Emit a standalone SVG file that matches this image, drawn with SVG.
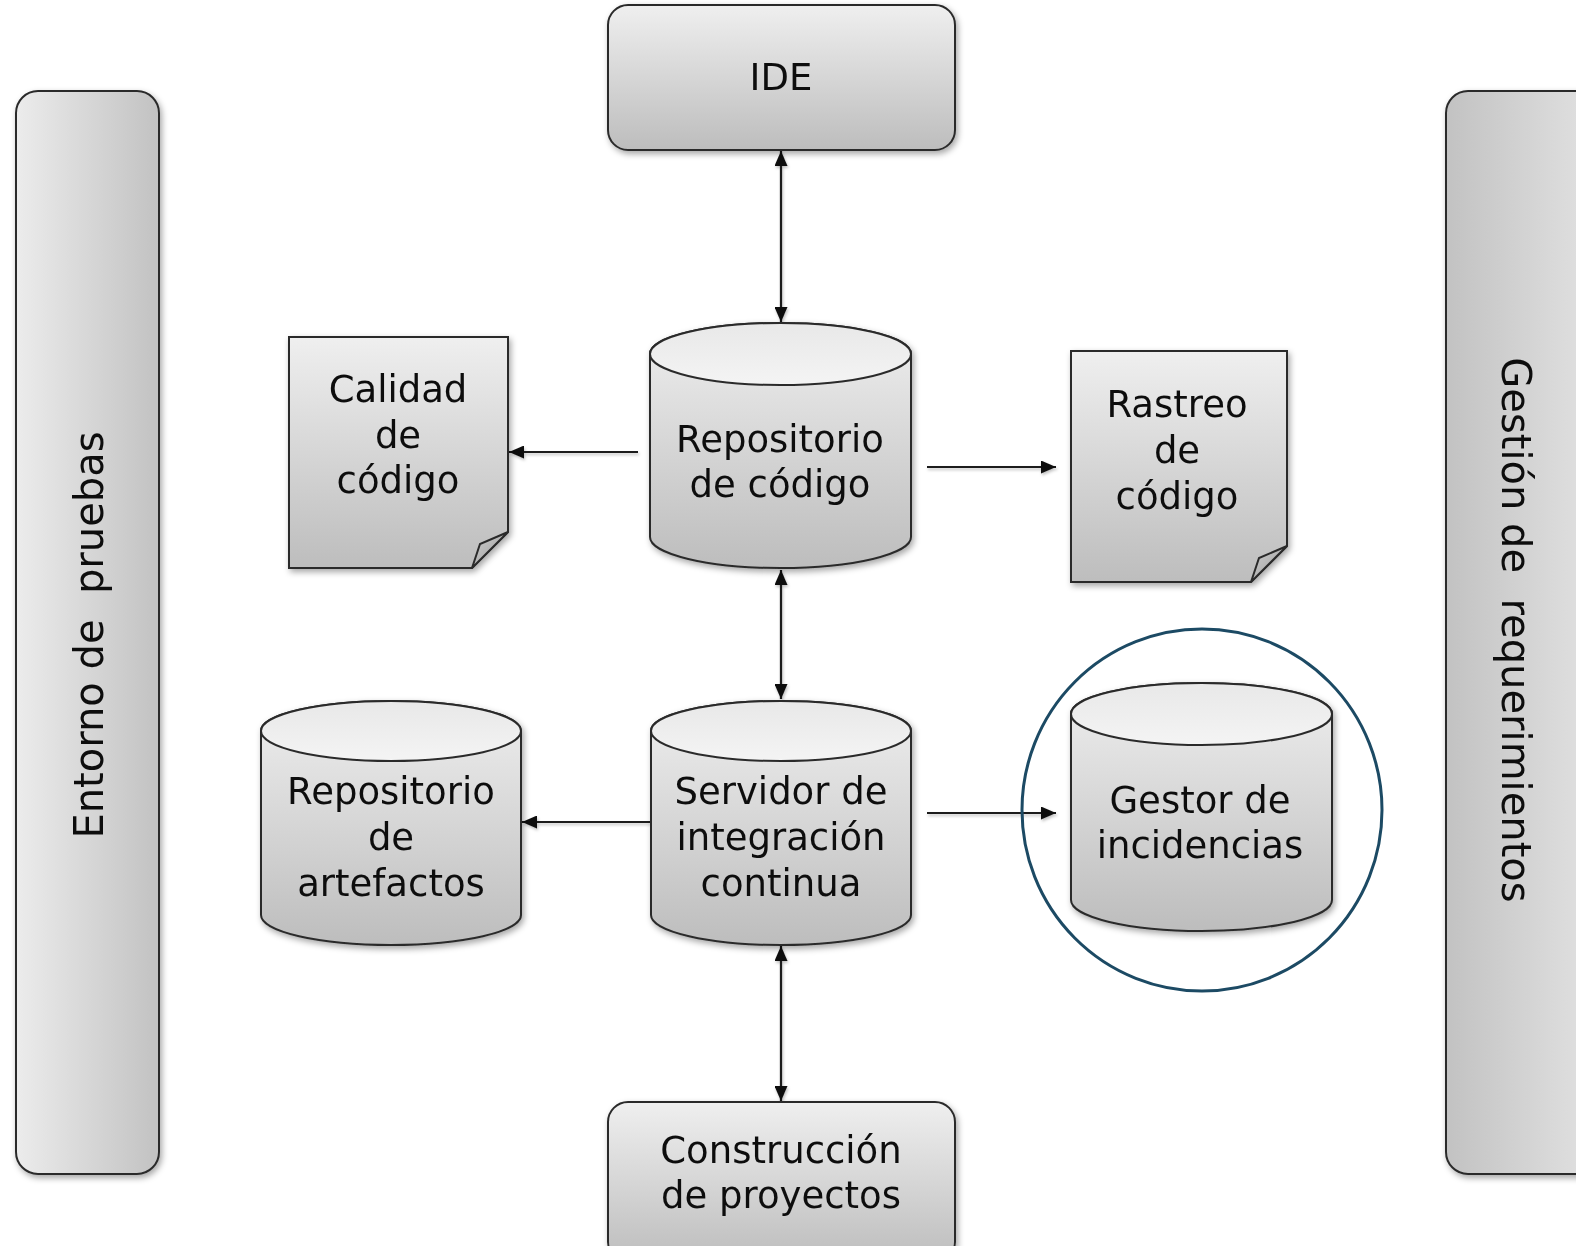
<svg xmlns="http://www.w3.org/2000/svg" width="1576" height="1246" viewBox="0 0 1576 1246">
  <style>
    .shape { stroke: #2b2b2b; stroke-width: 2; }
    .node { fill: url(#gNode); }
    .lbl { font-family: "DejaVu Sans", Verdana, sans-serif; font-size: 37px; fill: #111; text-anchor: middle; }
    .side { font-family: "DejaVu Sans", Verdana, sans-serif; font-size: 40px; fill: #111; text-anchor: middle; white-space: pre; }
    .conn { stroke: #1a1a1a; stroke-width: 2.2; fill: none; }
  </style>
  <defs>
    <linearGradient id="gNode" x1="0" y1="0" x2="0" y2="1">
      <stop offset="0" stop-color="#efefef"/>
      <stop offset="1" stop-color="#bdbdbd"/>
    </linearGradient>
    <linearGradient id="gTop" x1="0" y1="0" x2="0" y2="1">
      <stop offset="0" stop-color="#e8e8e8"/>
      <stop offset="1" stop-color="#f4f4f4"/>
    </linearGradient>
    <linearGradient id="gLeft" x1="0" y1="0" x2="1" y2="0">
      <stop offset="0" stop-color="#ececec"/>
      <stop offset="1" stop-color="#c2c2c2"/>
    </linearGradient>
    <linearGradient id="gRight" x1="0" y1="0" x2="1" y2="0">
      <stop offset="0" stop-color="#c2c2c2"/>
      <stop offset="1" stop-color="#e4e4e4"/>
    </linearGradient>
    <linearGradient id="gFold" x1="0" y1="0" x2="1" y2="1">
      <stop offset="0" stop-color="#cfcfcf"/>
      <stop offset="1" stop-color="#9a9a9a"/>
    </linearGradient>
    <filter id="shadow" x="-10%" y="-10%" width="130%" height="130%">
      <feDropShadow dx="2" dy="3" stdDeviation="3" flood-color="#000" flood-opacity="0.35"/>
    </filter>
    <filter id="lineShadow" x="-5%" y="-50%" width="110%" height="200%">
      <feDropShadow dx="1" dy="2" stdDeviation="1.5" flood-color="#000" flood-opacity="0.25"/>
    </filter>
    <marker id="arrow" viewBox="0 0 15 13" refX="15" refY="6.5" markerWidth="15" markerHeight="13" markerUnits="userSpaceOnUse" orient="auto-start-reverse">
      <path d="M0,0 L15,6.5 L0,13 Z" fill="#111"/>
    </marker>
  </defs>

  <rect width="1576" height="1246" fill="#ffffff"/>

  <!-- side panels -->
  <g id="entorno-pruebas" filter="url(#shadow)">
    <rect class="shape" x="16" y="91" width="143" height="1083" rx="22" fill="url(#gLeft)"/>
    <text class="side" transform="translate(103,635) rotate(-90)">Entorno de  pruebas</text>
  </g>
  <g id="gestion-requerimientos" filter="url(#shadow)">
    <rect class="shape" x="1446" y="91" width="160" height="1083" rx="22" fill="url(#gRight)"/>
    <text class="side" transform="translate(1502,630) rotate(90)">Gestión de  requerimientos</text>
  </g>

  <!-- connectors -->
  <g id="connectors" filter="url(#lineShadow)">
    <line class="conn" x1="781" y1="151" x2="781" y2="322" marker-start="url(#arrow)" marker-end="url(#arrow)"/>
    <line class="conn" x1="638" y1="452" x2="509" y2="452" marker-end="url(#arrow)"/>
    <line class="conn" x1="927" y1="467" x2="1056" y2="467" marker-end="url(#arrow)"/>
    <line class="conn" x1="781" y1="570" x2="781" y2="699" marker-start="url(#arrow)" marker-end="url(#arrow)"/>
    <line class="conn" x1="651" y1="822" x2="522" y2="822" marker-end="url(#arrow)"/>
    <line class="conn" x1="927" y1="813" x2="1056" y2="813" marker-end="url(#arrow)"/>
    <line class="conn" x1="781" y1="946" x2="781" y2="1101" marker-start="url(#arrow)" marker-end="url(#arrow)"/>
  </g>

  <!-- IDE -->
  <g id="ide" filter="url(#shadow)">
    <rect class="shape node" x="608" y="5" width="347" height="145" rx="20"/>
    <text class="lbl" x="781" y="90">IDE</text>
  </g>

  <!-- Repositorio de código -->
  <g id="repositorio-codigo" filter="url(#shadow)">
    <path class="shape node" d="M650,354 L650,537 A130.5,31 0 0 0 911,537 L911,354 A130.5,31 0 0 0 650,354 Z"/>
    <ellipse class="shape" cx="780.5" cy="354" rx="130.5" ry="31" fill="url(#gTop)"/>
    <text class="lbl" x="780" y="452">Repositorio</text>
    <text class="lbl" x="780" y="497">de código</text>
  </g>

  <!-- Calidad de código -->
  <g id="calidad-codigo" filter="url(#shadow)">
    <path class="shape node" d="M289,337 H508 V532 L472,568 H289 Z"/>
    <path class="shape" d="M508,532 L480,544 L472,568 Z" fill="url(#gFold)" stroke-width="1.5"/>
    <text class="lbl" x="398" y="402">Calidad</text>
    <text class="lbl" x="398" y="448">de</text>
    <text class="lbl" x="398" y="493">código</text>
  </g>

  <!-- Rastreo de código -->
  <g id="rastreo-codigo" filter="url(#shadow)">
    <path class="shape node" d="M1071,351 H1287 V546 L1251,582 H1071 Z"/>
    <path class="shape" d="M1287,546 L1259,558 L1251,582 Z" fill="url(#gFold)" stroke-width="1.5"/>
    <text class="lbl" x="1177" y="417">Rastreo</text>
    <text class="lbl" x="1177" y="463">de</text>
    <text class="lbl" x="1177" y="509">código</text>
  </g>

  <!-- Servidor de integración continua -->
  <g id="servidor-ci" filter="url(#shadow)">
    <path class="shape node" d="M651,731 L651,915 A130,30 0 0 0 911,915 L911,731 A130,30 0 0 0 651,731 Z"/>
    <ellipse class="shape" cx="781" cy="731" rx="130" ry="30" fill="url(#gTop)"/>
    <text class="lbl" x="781" y="804">Servidor de</text>
    <text class="lbl" x="781" y="850">integración</text>
    <text class="lbl" x="781" y="896">continua</text>
  </g>

  <!-- Repositorio de artefactos -->
  <g id="repositorio-artefactos" filter="url(#shadow)">
    <path class="shape node" d="M261,731 L261,915 A130,30 0 0 0 521,915 L521,731 A130,30 0 0 0 261,731 Z"/>
    <ellipse class="shape" cx="391" cy="731" rx="130" ry="30" fill="url(#gTop)"/>
    <text class="lbl" x="391" y="804">Repositorio</text>
    <text class="lbl" x="391" y="850">de</text>
    <text class="lbl" x="391" y="896">artefactos</text>
  </g>

  <!-- Gestor de incidencias -->
  <g id="gestor-incidencias">
    <g filter="url(#shadow)">
      <path class="shape node" d="M1071,714 L1071,900 A130.5,31 0 0 0 1332,900 L1332,714 A130.5,31 0 0 0 1071,714 Z"/>
      <ellipse class="shape" cx="1201.5" cy="714" rx="130.5" ry="31" fill="url(#gTop)"/>
      <text class="lbl" x="1200" y="813">Gestor de</text>
      <text class="lbl" x="1200" y="858">incidencias</text>
    </g>
    <ellipse cx="1202" cy="810" rx="180" ry="181" fill="none" stroke="#1c4a64" stroke-width="3"/>
  </g>

  <!-- Construcción de proyectos -->
  <g id="construccion-proyectos" filter="url(#shadow)">
    <rect class="shape node" x="608" y="1102" width="347" height="160" rx="20"/>
    <text class="lbl" x="781" y="1163">Construcción</text>
    <text class="lbl" x="781" y="1208">de proyectos</text>
  </g>
</svg>
